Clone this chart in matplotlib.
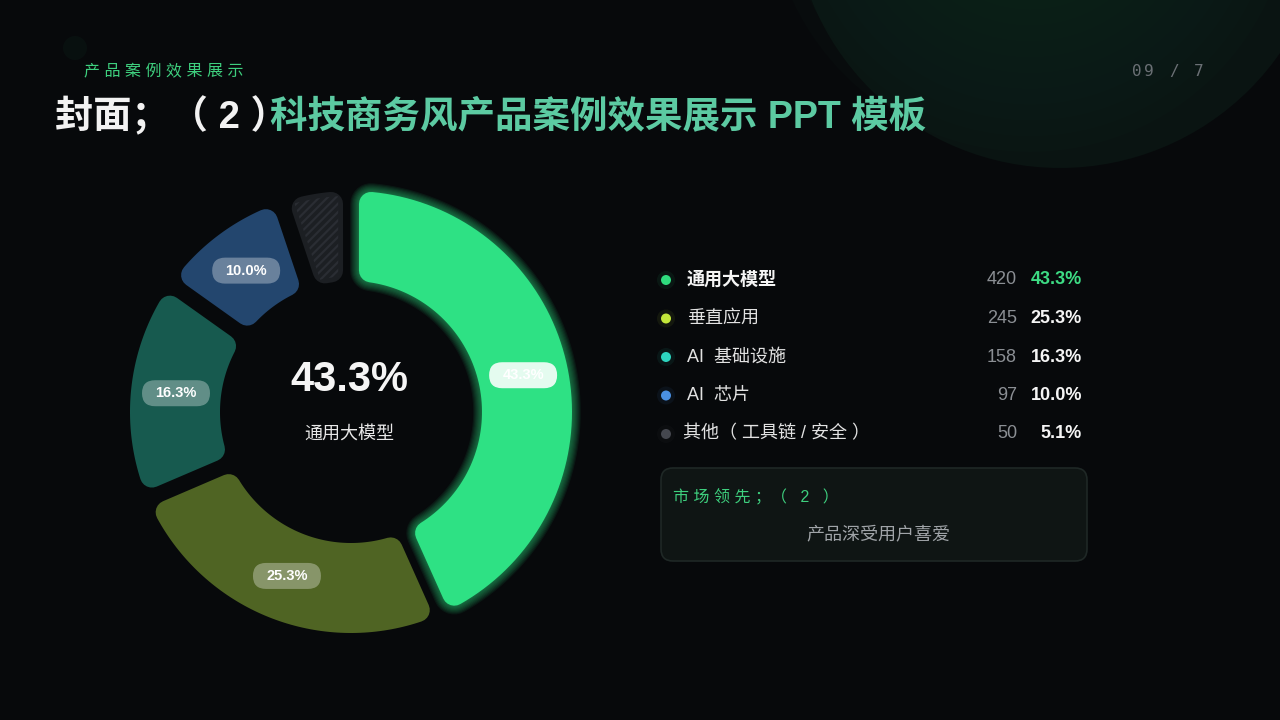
import numpy as np
import matplotlib

matplotlib.use("Agg")
import matplotlib.pyplot as plt
from matplotlib.patches import Polygon, Circle, FancyBboxPatch

plt.rcParams["font.family"] = ["Liberation Sans", "Noto Sans CJK SC", "DejaVu Sans"]
plt.rcParams["hatch.linewidth"] = 1.6

# --- data -------------------------------------------------------------
categories = ["通用大模型", "垂直应用", "AI  基础设施", "AI  芯片", "其他（ 工具链 / 安全 ）"]
values = [420, 245, 158, 97, 50]
pct_labels = ["43.3%", "25.3%", "16.3%", "10.0%", "5.1%"]
seg_colors = ["#2ee184", "#4f6423", "#175a4f", "#23466e", "#1c1f23"]
dot_colors = ["#2fdc7e", "#c4e83a", "#2dd4bf", "#4a90e2", "#44474e"]

title_white = "封面；（ 2 ）"
title_green = "科技商务风产品案例效果展示 PPT 模板"
kicker = "产品案例效果展示"
page_no = "09 / 7"
center_value = "43.3%"
center_label = "通用大模型"
note_title = "市场领先；（ 2 ）"
note_body = "产品深受用户喜爱"

BG = "#07090b"
H = 720


def Y(y):
    return H - y


def letter_spaced(s):
    """Fake letter spacing: a plain space after each CJK glyph."""
    out = ""
    for ch in s:
        if ch == " ":
            out += "   "
        elif ord(ch) > 0x2E80 and ch not in "；（）":
            out += ch + " "
        else:
            out += ch
    return out


def sector(cx, cy, a0, a1, r0, r1, gap, c):
    """Annular sector (clockwise a0 -> a1) shrunk by c px for round stroke."""
    ro, ri = r1 - c, r0 + c
    off_o = np.degrees((gap / 2 + c) / ro)
    off_i = np.degrees((gap / 2 + c) / ri)
    t_out = np.radians(np.linspace(a0 - off_o, a1 + off_o, 80))
    t_in = np.radians(np.linspace(a1 + off_i, a0 - off_i, 80))
    xs = np.concatenate([cx + ro * np.cos(t_out), cx + ri * np.cos(t_in)])
    ys = np.concatenate([cy + ro * np.sin(t_out), cy + ri * np.sin(t_in)])
    return np.column_stack([xs, ys])


fig = plt.figure(figsize=(12.8, 7.2), dpi=100)
fig.patch.set_facecolor(BG)
ax = fig.add_axes([0, 0, 1, 1])
ax.set_xlim(0, 1280)
ax.set_ylim(0, H)
ax.axis("off")
ax.set_facecolor(BG)

# background blob top right
ax.add_patch(Circle((1060, Y(-100)), 268, fc="#0a1412", ec="none", zorder=0))
for r in np.linspace(262, 120, 10):
    ax.add_patch(Circle((1030, Y(-110)), r, fc="#11281f", ec="none", alpha=0.10, zorder=0))
ax.add_patch(Circle((75, Y(48)), 12, fc="#123a28", ec="none", alpha=0.15, zorder=0))

# header
ax.text(84, Y(76), letter_spaced(kicker), color="#3ecf7e", fontsize=11.5,
        ha="left", va="baseline")
x = 1132
for ch in page_no:
    ax.text(x, Y(76), ch, color="#6b7075", fontsize=11.5,
            family="DejaVu Sans Mono", ha="left", va="baseline")
    x += 12.4
ax.text(55, Y(128), title_white, color="#f2f2f2", fontsize=27.5, fontweight="bold",
        va="baseline", ha="left")
ax.text(270, Y(128), title_green, color="#5ccaa2", fontsize=27, fontweight="bold",
        va="baseline", ha="left")

# donut
cx, cy = 351, Y(412)
r_in, r_out = 131, 221
gap, c = 16, 12
lw_pt = 2 * c * 72 / 100
total = sum(values)
cum = np.concatenate([[0], np.cumsum(values)])
for i, v in enumerate(values):
    a0 = 90 - 360 * cum[i] / total
    a1 = 90 - 360 * cum[i + 1] / total
    pts = sector(cx, cy, a0, a1, r_in, r_out, gap, c)
    col = seg_colors[i]
    if i == 0:
        for k in range(1, 9):
            ax.add_patch(Polygon(pts, closed=True, fc="none", ec=col,
                                 lw=(2 * c + 2.2 * k) * 0.72, joinstyle="round",
                                 alpha=0.07, zorder=2))
    ax.add_patch(Polygon(pts, closed=True, fc=col, ec=col, lw=lw_pt,
                         joinstyle="round", zorder=3))
    if i == len(values) - 1:
        hp = sector(cx, cy, a0, a1, r_in, r_out, gap, c * 0.4)
        ax.add_patch(Polygon(hp, closed=True, fc="none", ec="#2a2d33", lw=0,
                             hatch="////", zorder=4))
        continue
    am = np.radians((a0 + a1) / 2)
    rm = (r_in + r_out) / 2
    px, py = cx + rm * np.cos(am), cy + rm * np.sin(am)
    pill_a = 0.88 if i == 0 else 0.32
    ax.add_patch(FancyBboxPatch((px - 34, py - 13), 68, 26,
                                boxstyle="round,pad=0,rounding_size=13",
                                fc="white", ec="none", alpha=pill_a, zorder=5))
    ax.text(px, py, pct_labels[i], color="white", fontsize=10.5, fontweight="bold",
            ha="center", va="center", zorder=6)

ax.text(349, Y(380), center_value, color="#f5f5f5", fontsize=30, fontweight="bold",
        ha="center", va="center")
ax.text(349, Y(434), center_label, color="#e8e8e8", fontsize=13,
        ha="center", va="center")

# legend
for i, name in enumerate(categories):
    yy = Y(280 + i * 38.5)
    ax.add_patch(Circle((666, yy), 9, fc=dot_colors[i], ec="none", alpha=0.07))
    ax.add_patch(Circle((666, yy), 5, fc=dot_colors[i], ec="none"))
    x_lab = 687 if i < len(categories) - 1 else 683
    ax.text(x_lab, yy, name, color="#f5f5f5" if i == 0 else "#e2e2e2",
            fontsize=13, fontweight="bold" if i == 0 else "normal",
            ha="left", va="center")
    ax.text(1017, yy, str(values[i]), color="#8b8f94", fontsize=13,
            ha="right", va="center")
    ax.text(1082, yy, pct_labels[i], color="#3ddc84" if i == 0 else "#f5f5f5",
            fontsize=13, fontweight="bold", ha="right", va="center")

# note box
ax.add_patch(FancyBboxPatch((661, Y(561)), 426, 93,
                            boxstyle="round,pad=0,rounding_size=12",
                            fc="#0f1514", ec="#1f2826", lw=1.2))
ax.text(673, Y(502), letter_spaced(note_title), color="#3ecf7e", fontsize=11.5,
        ha="left", va="baseline")
ax.text(878, Y(535), note_body, color="#a0a4a8", fontsize=13, ha="center", va="center")

fig.savefig("out.png", dpi=100, facecolor=BG)
